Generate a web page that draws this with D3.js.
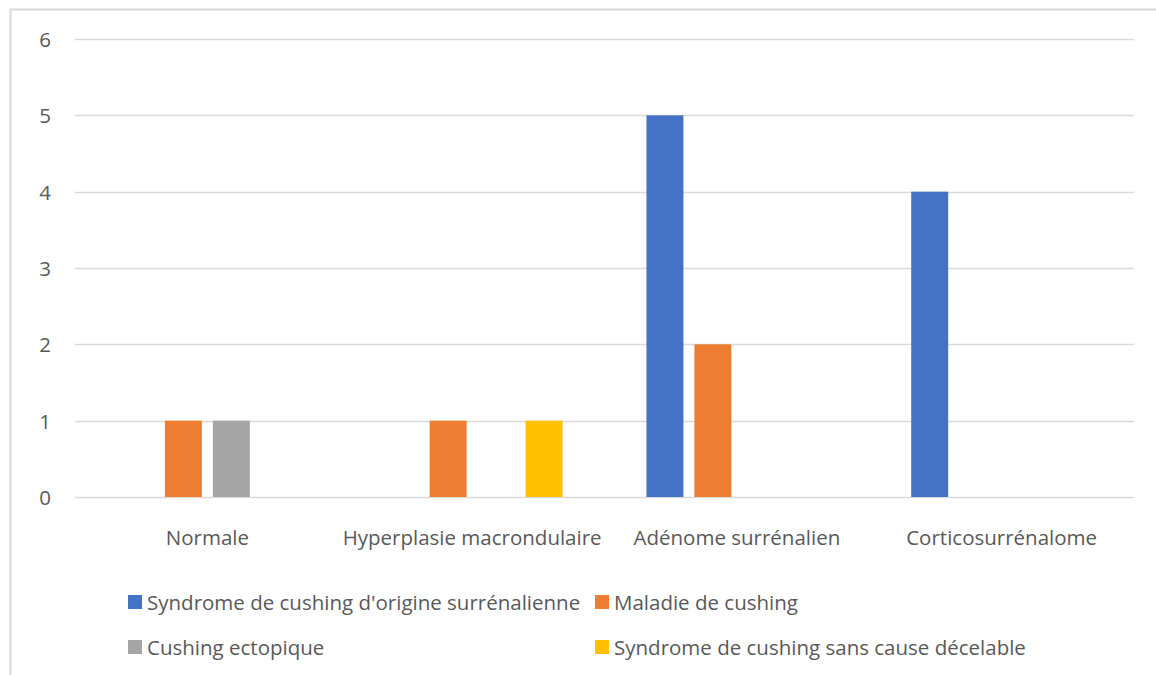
<!DOCTYPE html>
<html>
<head>
<meta charset="utf-8">
<script src="https://cdn.jsdelivr.net/npm/d3@7"></script>
<style>
  html, body { margin: 0; padding: 0; background: #fff; }
  svg { display: block; }
  text { font-family: "Open Sans", "Noto Sans", sans-serif; fill: #595959; }
</style>
</head>
<body>
<svg id="chart" width="1156" height="675"></svg>
<script>
// Histological findings by type of Cushing syndrome
const categories = ["Normale", "Hyperplasie macrondulaire", "Adénome surrénalien", "Corticosurrénalome"];
const seriesNames = [
  "Syndrome de cushing d'origine surrénalienne",
  "Maladie de cushing",
  "Cushing ectopique",
  "Syndrome de cushing sans cause décelable"
];
const surrenalienne = [0, 0, 5, 4];
const maladie       = [1, 1, 2, 0];
const ectopique     = [1, 0, 0, 0];
const sansCause     = [0, 1, 0, 0];
const yTicks = [0, 1, 2, 3, 4, 5, 6];
const colors = ["#4472C4", "#ED7D31", "#A5A5A5", "#FFC000"];

const seriesValues = [surrenalienne, maladie, ectopique, sansCause];

const svg = d3.select("#chart");
const W = 1156, H = 675;
const FS = 20.5;

// outer frame
svg.append("rect")
  .attr("x", 10.5).attr("y", 9.5)
  .attr("width", W).attr("height", H)
  .attr("fill", "none").attr("stroke", "#d9d9d9").attr("stroke-width", 2);

const plot = { left: 75, right: 1134, top: 39, bottom: 497 };

const x0 = d3.scaleBand().domain(categories)
  .range([plot.left, plot.right]).paddingInner(0).paddingOuter(0);
const x1 = d3.scaleBand().domain(d3.range(seriesNames.length))
  .range([0, x0.bandwidth()]).paddingInner(0.229).paddingOuter(0.875);
const y = d3.scaleLinear().domain([0, 6]).range([plot.bottom, plot.top]);

// gridlines
svg.append("g")
  .selectAll("line").data(yTicks).join("line")
  .attr("x1", plot.left).attr("x2", plot.right)
  .attr("y1", d => Math.round(y(d)) + 0.5).attr("y2", d => Math.round(y(d)) + 0.5)
  .attr("stroke", "#d9d9d9").attr("stroke-width", 1.5);

// y tick labels
svg.append("g")
  .selectAll("text").data(yTicks).join("text")
  .attr("x", 51).attr("y", d => y(d))
  .attr("text-anchor", "end").attr("dominant-baseline", "central")
  .attr("font-size", FS)
  .text(d => d);

// bars
const groups = svg.append("g").selectAll("g").data(categories).join("g")
  .attr("transform", c => `translate(${x0(c)},0)`);
groups.selectAll("rect")
  .data((c, ci) => seriesValues.map((vals, si) => ({ si, v: vals[ci] })))
  .join("rect")
  .filter(d => d.v > 0)
  .attr("x", d => x1(d.si))
  .attr("width", x1.bandwidth())
  .attr("y", d => y(d.v))
  .attr("height", d => y(0) - y(d.v))
  .attr("fill", d => colors[d.si]);

// category labels
svg.append("g")
  .selectAll("text").data(categories).join("text")
  .attr("x", c => x0(c) + x0.bandwidth() / 2).attr("y", 537)
  .attr("text-anchor", "middle").attr("dominant-baseline", "central")
  .attr("font-size", FS)
  .text(c => c);

// legend
const legendPos = [
  { x: 128, y: 602 }, { x: 595, y: 602 },
  { x: 128, y: 647 }, { x: 595, y: 647 }
];
const leg = svg.append("g").selectAll("g").data(seriesNames).join("g")
  .attr("transform", (d, i) => `translate(${legendPos[i].x},${legendPos[i].y})`);
leg.append("rect")
  .attr("x", 0).attr("y", -7).attr("width", 14).attr("height", 14)
  .attr("fill", (d, i) => colors[i]);
leg.append("text")
  .attr("x", 19).attr("y", 0)
  .attr("dominant-baseline", "central")
  .attr("font-size", FS)
  .text(d => d);
</script>
</body>
</html>
